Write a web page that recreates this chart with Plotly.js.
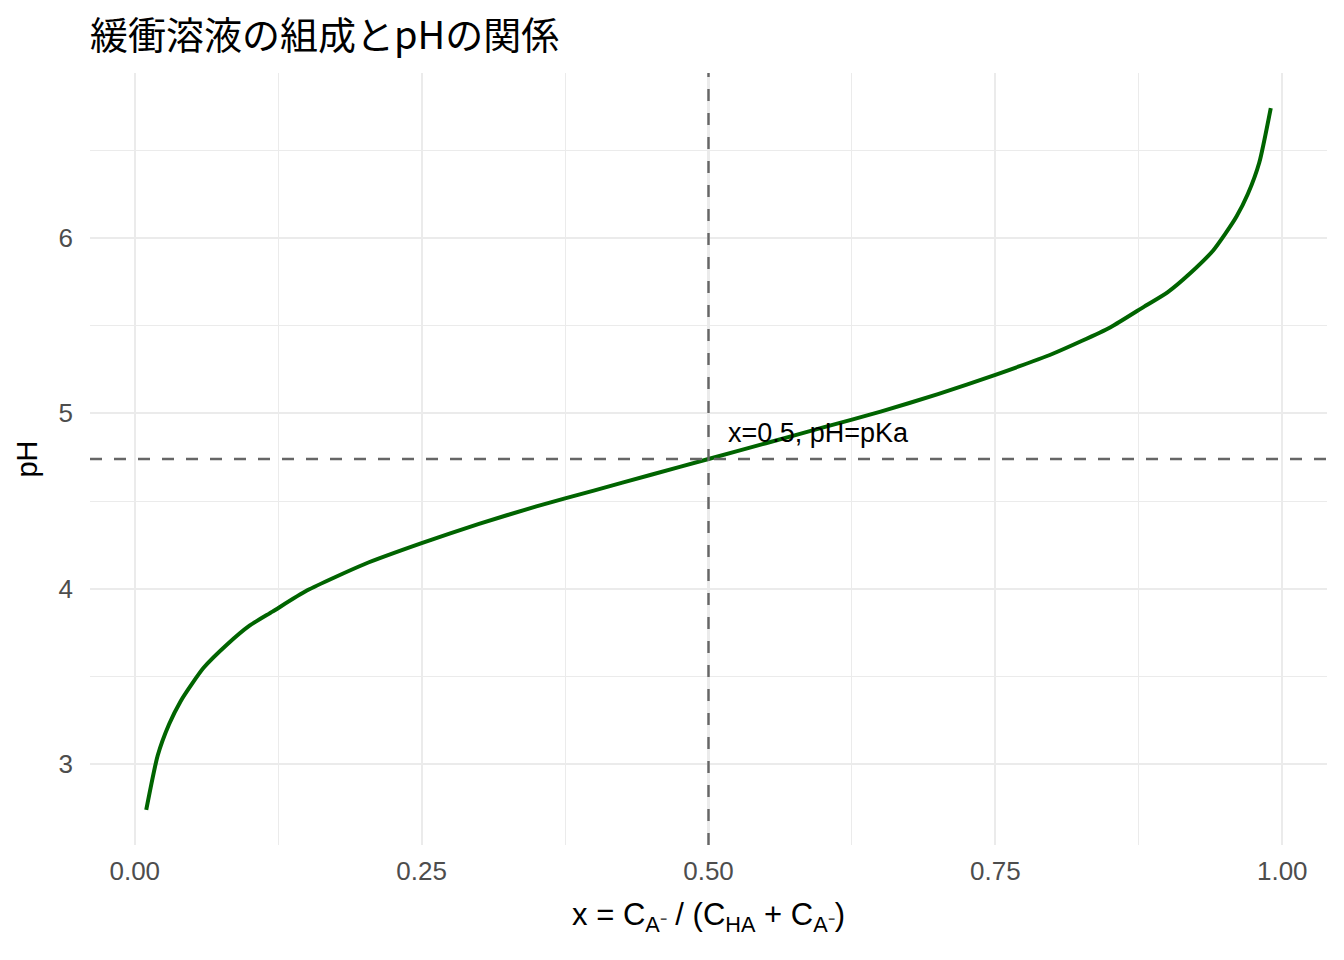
<!DOCTYPE html>
<html>
<head>
<meta charset="utf-8">
<script src="https://cdn.plot.ly/plotly-3.0.1.min.js"></script>
<style>
  body { margin: 0; background: #fff; }
  #grafico { width: 1344px; height: 960px; }
</style>
</head>
<body>
<div id="grafico"></div>
<script>
// fraction of conjugate base and the pH
const fraccion = [0.01, 0.02, 0.03, 0.04, 0.05, 0.06, 0.08, 0.10, 0.12, 0.15,
  0.20, 0.25, 0.30, 0.35, 0.40, 0.45, 0.50, 0.55, 0.60, 0.65, 0.70, 0.75,
  0.80, 0.85, 0.88, 0.90, 0.92, 0.94, 0.95, 0.96, 0.97, 0.98, 0.99];
const valoresPH = [2.74, 3.05, 3.23, 3.36, 3.46, 3.55, 3.68, 3.79, 3.87, 3.99,
  4.14, 4.26, 4.37, 4.47, 4.56, 4.65, 4.74, 4.83, 4.92, 5.01, 5.11, 5.22,
  5.34, 5.49, 5.61, 5.69, 5.80, 5.93, 6.02, 6.12, 6.25, 6.43, 6.74];
const pKa = 4.74;
const xMitad = 0.5;
const rangoX = [-0.039, 1.039];
const rangoY = [2.54, 6.94];
const ticksX = [0, 0.25, 0.5, 0.75, 1];
const etiquetasX = ["0.00", "0.25", "0.50", "0.75", "1.00"];
const ticksY = [3, 4, 5, 6];

const gris = "#4d4d4d";
const rejilla = "#ebebeb";

const curva = {
  type: "scatter",
  mode: "lines",
  x: fraccion,
  y: valoresPH,
  line: { color: "#006400", width: 4, shape: "spline", smoothing: 0.6 },
  hoverinfo: "skip"
};

const trazo = { color: "#666666", width: 2.4, dash: "12px,12px" };

const layout = {
  width: 1344,
  height: 960,
  margin: { l: 90, r: 17, t: 73, b: 115 },
  paper_bgcolor: "#ffffff",
  plot_bgcolor: "#ffffff",
  showlegend: false,
  font: { family: "Liberation Sans, Arial, sans-serif", color: "#000" },
  title: {
    text: "緩衝溶液の組成とpHの関係",
    font: { family: "Noto Sans CJK JP, sans-serif", size: 38, color: "#000" },
    x: 90 / 1344, xanchor: "left", xref: "container",
    y: 1 - 36 / 960, yanchor: "middle", yref: "container"
  },
  xaxis: {
    range: rangoX,
    tickvals: ticksX,
    ticktext: etiquetasX,
    tickfont: { size: 26, color: gris },
    showline: false, zeroline: false, ticks: "",
    gridcolor: rejilla, gridwidth: 2.2,
    minor: { dtick: 0.125, tick0: 0.125, gridcolor: rejilla, gridwidth: 1.1, showgrid: true },
    ticklabelstandoff: 8,
    title: {
      text: "x = C<sub>A⁻</sub> / (C<sub>HA</sub> + C<sub>A⁻</sub>)",
      font: { size: 31, color: "#000" },
      standoff: 18
    }
  },
  yaxis: {
    range: rangoY,
    tickvals: ticksY,
    tickfont: { size: 26, color: gris },
    showline: false, zeroline: false, ticks: "",
    gridcolor: rejilla, gridwidth: 2.2,
    minor: { dtick: 1, tick0: 2.5, gridcolor: rejilla, gridwidth: 1.1, showgrid: true },
    ticklabelstandoff: 16,
    title: {
      text: "pH",
      font: { size: 29, color: "#000" },
      standoff: 12
    }
  },
  shapes: [
    {
      type: "line", xref: "x", yref: "y",
      x0: xMitad, x1: xMitad, y0: rangoY[0], y1: rangoY[1],
      line: trazo,
      layer: "above"
    },
    {
      type: "line", xref: "x", yref: "y",
      x0: rangoX[0], x1: rangoX[1], y0: pKa, y1: pKa,
      line: trazo,
      layer: "above"
    }
  ],
  annotations: [
    {
      x: 0.515, y: 4.89, xref: "x", yref: "y",
      xanchor: "left", yanchor: "middle",
      text: "x=0.5, pH=pKa",
      showarrow: false,
      font: { size: 27, color: "#000" }
    }
  ]
};

Plotly.newPlot("grafico", [curva], layout, { staticPlot: true, displayModeBar: false });
</script>
</body>
</html>
